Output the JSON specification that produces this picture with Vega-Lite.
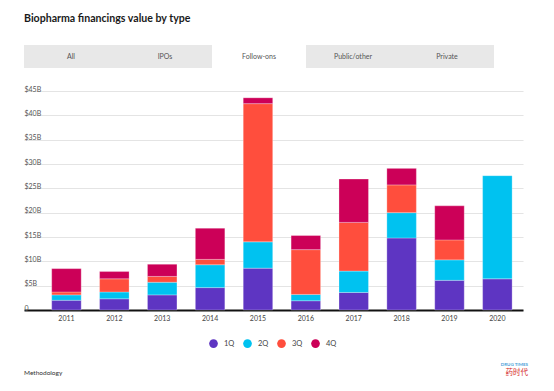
{
  "$schema": "https://vega.github.io/schema/vega-lite/v6.json",
  "background": "white",
  "padding": {"left": 24, "top": 14, "right": 10, "bottom": 8},
  "bounds": "flush",
  "spacing": 23,
  "config": {
    "view": {"stroke": null},
    "font": "Lato"
  },
  "title": {
    "text": "DRUG TIMES",
    "subtitle": "药时代",
    "orient": "bottom",
    "anchor": "end",
    "dx": 5,
    "fontSize": 4.5,
    "fontWeight": "bold",
    "color": "#4A9FD8",
    "subtitleFont": "Noto Sans CJK SC",
    "subtitleFontSize": 7.5,
    "subtitleColor": "#D42A2A",
    "subtitlePadding": 2.5,
    "offset": -15
  },
  "vconcat": [
    {
      "title": {
        "text": "Biopharma financings value by type",
        "anchor": "start",
        "fontSize": 10.6,
        "fontWeight": "bold",
        "color": "#1a1a1a",
        "offset": 20
      },
      "width": 470,
      "height": 23,
      "data": {
        "values": [
          {"tab": "All", "state": "inactive"},
          {"tab": "IPOs", "state": "inactive"},
          {"tab": "Follow-ons", "state": "active"},
          {"tab": "Public/other", "state": "inactive"},
          {"tab": "Private", "state": "inactive"}
        ]
      },
      "encoding": {
        "x": {
          "field": "tab",
          "type": "nominal",
          "sort": null,
          "scale": {"paddingInner": 0, "paddingOuter": 0},
          "axis": null
        }
      },
      "layer": [
        {
          "mark": {"type": "rect"},
          "encoding": {
            "color": {
              "condition": {"test": "datum.state == 'active'", "value": "#FFFFFF"},
              "value": "#E8E8E8"
            }
          }
        },
        {
          "mark": {"type": "text", "fontSize": 7, "color": "#555555"},
          "encoding": {"text": {"field": "tab"}}
        }
      ]
    },
    {
      "title": {
        "text": "Methodology",
        "orient": "bottom",
        "anchor": "start",
        "fontSize": 6.5,
        "fontWeight": "normal",
        "color": "#333333",
        "offset": 49
      },
      "width": 499,
      "height": 219,
      "data": {
        "values": [
          {"year": "2011", "quarter": "1Q", "value": 2.0},
          {"year": "2011", "quarter": "2Q", "value": 1.1},
          {"year": "2011", "quarter": "3Q", "value": 0.6},
          {"year": "2011", "quarter": "4Q", "value": 4.8},
          {"year": "2012", "quarter": "1Q", "value": 2.3},
          {"year": "2012", "quarter": "2Q", "value": 1.4},
          {"year": "2012", "quarter": "3Q", "value": 2.7},
          {"year": "2012", "quarter": "4Q", "value": 1.5},
          {"year": "2013", "quarter": "1Q", "value": 3.1},
          {"year": "2013", "quarter": "2Q", "value": 2.6},
          {"year": "2013", "quarter": "3Q", "value": 1.2},
          {"year": "2013", "quarter": "4Q", "value": 2.5},
          {"year": "2014", "quarter": "1Q", "value": 4.6},
          {"year": "2014", "quarter": "2Q", "value": 4.7},
          {"year": "2014", "quarter": "3Q", "value": 1.1},
          {"year": "2014", "quarter": "4Q", "value": 6.4},
          {"year": "2015", "quarter": "1Q", "value": 8.6},
          {"year": "2015", "quarter": "2Q", "value": 5.4},
          {"year": "2015", "quarter": "3Q", "value": 28.4},
          {"year": "2015", "quarter": "4Q", "value": 1.2},
          {"year": "2016", "quarter": "1Q", "value": 1.9},
          {"year": "2016", "quarter": "2Q", "value": 1.3},
          {"year": "2016", "quarter": "3Q", "value": 9.2},
          {"year": "2016", "quarter": "4Q", "value": 2.9},
          {"year": "2017", "quarter": "1Q", "value": 3.6},
          {"year": "2017", "quarter": "2Q", "value": 4.4},
          {"year": "2017", "quarter": "3Q", "value": 10.0},
          {"year": "2017", "quarter": "4Q", "value": 8.9},
          {"year": "2018", "quarter": "1Q", "value": 14.8},
          {"year": "2018", "quarter": "2Q", "value": 5.2},
          {"year": "2018", "quarter": "3Q", "value": 5.7},
          {"year": "2018", "quarter": "4Q", "value": 3.4},
          {"year": "2019", "quarter": "1Q", "value": 6.1},
          {"year": "2019", "quarter": "2Q", "value": 4.2},
          {"year": "2019", "quarter": "3Q", "value": 4.1},
          {"year": "2019", "quarter": "4Q", "value": 7.0},
          {"year": "2020", "quarter": "1Q", "value": 6.4},
          {"year": "2020", "quarter": "2Q", "value": 21.2}
        ]
      },
      "mark": {"type": "bar", "stroke": "white", "strokeWidth": 0.6, "strokeOpacity": 0.45},
      "encoding": {
        "x": {
          "field": "year",
          "type": "nominal",
          "scale": {"paddingInner": 0.384, "paddingOuter": 0.403, "align": 0.718},
          "axis": {
            "title": null,
            "labelAngle": 0,
            "labelFontSize": 7,
            "labelColor": "#444444",
            "labelPadding": 4,
            "ticks": false,
            "domainColor": "#111111",
            "domainWidth": 2,
            "grid": false
          }
        },
        "y": {
          "aggregate": "sum",
          "field": "value",
          "type": "quantitative",
          "stack": "zero",
          "scale": {"domain": [0, 45], "nice": false},
          "axis": {
            "title": null,
            "values": [0, 5, 10, 15, 20, 25, 30, 35, 40, 45],
            "labelExpr": "datum.value == 0 ? '0' : '$' + datum.value + 'B'",
            "labelAlign": "left",
            "labelBaseline": "alphabetic",
            "labelDy": -2.5,
            "labelPadding": 0,
            "labelFontSize": 7,
            "labelColor": "#555555",
            "ticks": false,
            "tickSize": 0,
            "domain": false,
            "gridColor": "#E4E4E4",
            "gridWidth": 1.2
          }
        },
        "color": {
          "field": "quarter",
          "type": "nominal",
          "scale": {
            "domain": ["1Q", "2Q", "3Q", "4Q"],
            "range": ["#5E35C2", "#00C2F0", "#FF4E3D", "#CC0058"]
          },
          "legend": {
            "title": null,
            "orient": "none",
            "direction": "horizontal",
            "legendX": 185,
            "legendY": 294,
            "symbolType": "circle",
            "symbolSize": 75,
            "symbolStrokeWidth": 0,
            "labelFontSize": 7.5,
            "labelColor": "#444444",
            "labelOffset": 6,
            "columnPadding": 8
          }
        },
        "order": {"field": "quarter", "sort": "ascending"}
      }
    }
  ]
}
